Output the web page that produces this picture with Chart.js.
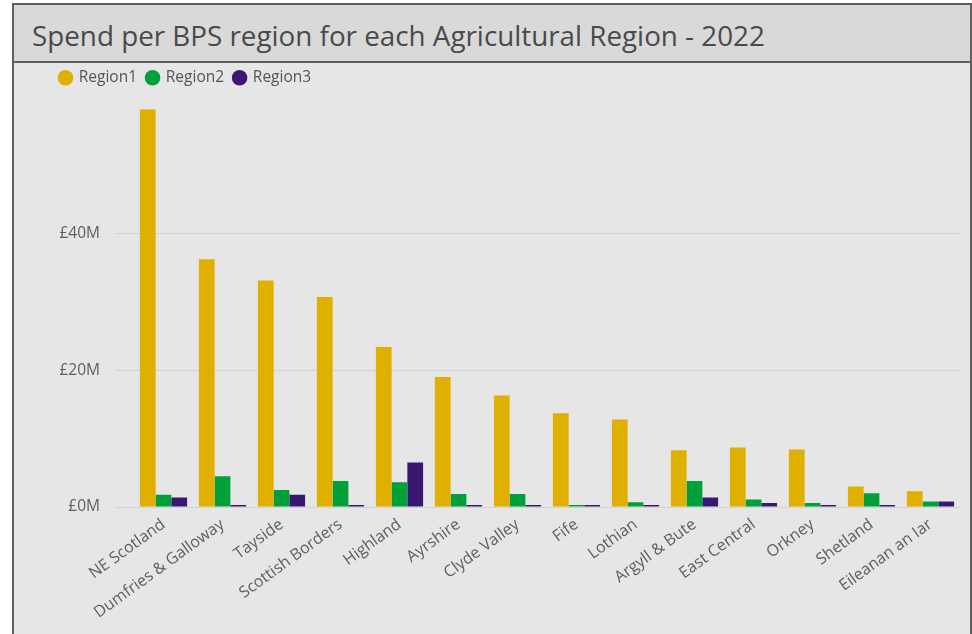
<!DOCTYPE html>
<html>
<head>
<meta charset="utf-8">
<script src="https://cdn.jsdelivr.net/npm/chart.js@4"></script>
<style>
    body { margin: 0; background: #ffffff; font-family: "Open Sans", sans-serif; }
    #frame {
        position: absolute; left: 12px; top: 3px; width: 956px; height: 640px;
        border: 2px solid #5f5f5f; border-bottom: none; background: #e6e6e6;
    }
    #title {
        height: 56px; background: #d9d9d9; border-bottom: 2px solid #5f5f5f;
        color: #4a4a4a; font-size: 27.8px; line-height: 60px; padding-left: 18px;
        white-space: nowrap;
    }
    #wrap { position: absolute; left: 0; top: 58px; width: 954px; height: 571px; }
</style>
</head>
<body>
<div id="frame">
    <div id="title">Spend per BPS region for each Agricultural Region - 2022</div>
    <div id="wrap"><canvas id="barChart"></canvas></div>
</div>
<script>
// spend in £M
const categories = ['NE Scotland', 'Dumfries & Galloway', 'Tayside', 'Scottish Borders', 'Highland',
    'Ayrshire', 'Clyde Valley', 'Fife', 'Lothian', 'Argyll & Bute', 'East Central', 'Orkney',
    'Shetland', 'Eileanan an Iar'];
const region1 = [58.1, 36.2, 33.1, 30.7, 23.4, 19.0, 16.3, 13.7, 12.8, 8.3, 8.7, 8.4, 3.0, 2.3];
const region2 = [1.8, 4.5, 2.5, 3.8, 3.6, 1.9, 1.9, 0.3, 0.7, 3.8, 1.1, 0.6, 2.0, 0.8];
const region3 = [1.4, 0.3, 1.8, 0.3, 6.5, 0.3, 0.3, 0.3, 0.3, 1.4, 0.6, 0.3, 0.3, 0.8];
const yTicks = [0, 20, 40];

const COLORS = {
    R1: '#dfb000',
    R2: '#00a03a',
    R3: '#3a1872',
    TEXT: '#5e5e5e',
    GRID: '#d2d2d2'
};

// nudge the legend to the right like the original
const legendShift = {
    id: 'legendShift',
    afterLayout(chart) {
        chart.legend.left += 36;
        chart.legend.right += 36;
        chart.legend.top -= 1;
    }
};

const ctx = document.getElementById('barChart').getContext('2d');
new Chart(ctx, {
    type: 'bar',
    data: {
        labels: categories,
        datasets: [
            { label: 'Region1', data: region1, backgroundColor: COLORS.R1 },
            { label: 'Region2', data: region2, backgroundColor: COLORS.R2 },
            { label: 'Region3', data: region3, backgroundColor: COLORS.R3 }
        ]
    },
    options: {
        responsive: true,
        maintainAspectRatio: false,
        animation: false,
        datasets: { bar: { categoryPercentage: 0.8, barPercentage: 1.0 } },
        layout: { padding: { top: -2, right: 8, bottom: 0, left: 0 } },
        plugins: {
            legend: {
                align: 'start',
                labels: {
                    usePointStyle: true,
                    pointStyle: 'circle',
                    boxWidth: 11,
                    boxHeight: 11,
                    padding: 10,
                    color: '#555555',
                    font: { family: 'Open Sans', size: 15.5 }
                }
            },
            tooltip: { enabled: false }
        },
        scales: {
            x: {
                grid: { display: false },
                border: { display: false },
                ticks: {
                    color: COLORS.TEXT,
                    font: { family: 'Open Sans', size: 16 },
                    minRotation: 36,
                    maxRotation: 36,
                    autoSkip: false,
                    padding: 0
                },
                afterFit(scale) { scale.height = 127; }
            },
            y: {
                min: 0,
                max: 60,
                border: { display: false },
                grid: {
                    color: ctx => ctx.tick && yTicks.includes(ctx.tick.value) ? COLORS.GRID : 'rgba(0,0,0,0)',
                    tickLength: 18,
                    lineWidth: 1
                },
                ticks: {
                    stepSize: 20,
                    padding: 16,
                    color: COLORS.TEXT,
                    font: { family: 'Open Sans', size: 15.5 },
                    callback: v => yTicks.includes(v) ? '£' + v + 'M' : ''
                },
                afterFit(scale) { scale.width = 120; }
            }
        }
    },
    plugins: [legendShift]
});
</script>
</body>
</html>
